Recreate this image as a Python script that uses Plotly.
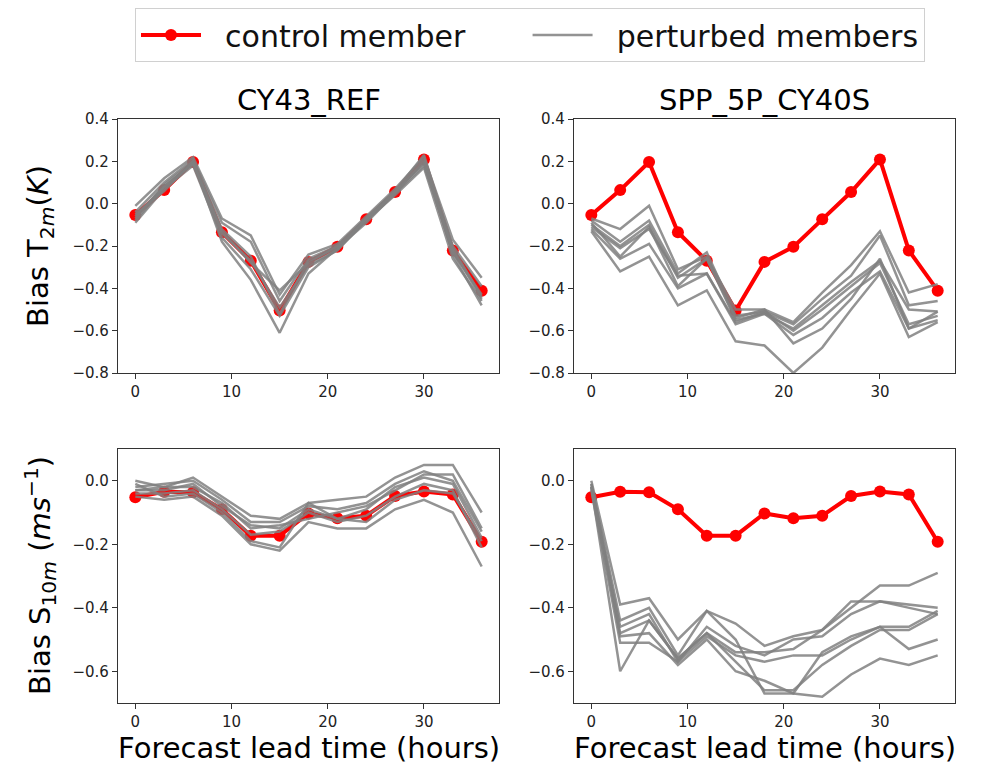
import plotly.graph_objects as go

lead_times = [0, 3, 6, 9, 12, 15, 18, 21, 24, 27, 30, 33, 36]

# control member
ctrl_t2m = [-0.054, 0.064, 0.197, -0.135, -0.270, -0.505, -0.275, -0.204, -0.074, 0.055, 0.209, -0.221, -0.411]
ctrl_s10m = [-0.052, -0.035, -0.036, -0.090, -0.173, -0.173, -0.103, -0.118, -0.110, -0.048, -0.034, -0.043, -0.192]

# perturbed members, CY43_REF, T2m
ref_t2m = [
    [-0.01, 0.12, 0.22, -0.07, -0.15, -0.43, -0.24, -0.19, -0.06, 0.07, 0.22, -0.17, -0.35],
    [-0.04, 0.10, 0.21, -0.09, -0.18, -0.46, -0.26, -0.20, -0.07, 0.06, 0.19, -0.20, -0.39],
    [-0.06, 0.08, 0.19, -0.12, -0.25, -0.52, -0.27, -0.21, -0.08, 0.05, 0.20, -0.23, -0.43],
    [-0.09, 0.07, 0.18, -0.16, -0.31, -0.53, -0.30, -0.22, -0.08, 0.04, 0.17, -0.26, -0.46],
    [-0.07, 0.09, 0.20, -0.18, -0.36, -0.61, -0.33, -0.21, -0.09, 0.05, 0.21, -0.24, -0.48],
    [-0.05, 0.06, 0.20, -0.13, -0.28, -0.41, -0.28, -0.20, -0.07, 0.06, 0.23, -0.21, -0.44],
    [-0.08, 0.08, 0.19, -0.14, -0.27, -0.49, -0.29, -0.22, -0.07, 0.05, 0.18, -0.22, -0.45],
]
# perturbed members, SPP_5P_CY40S, T2m
spp_t2m = [
    [-0.07, -0.12, -0.01, -0.31, -0.25, -0.50, -0.50, -0.56, -0.42, -0.29, -0.13, -0.42, -0.38],
    [-0.08, -0.18, -0.08, -0.33, -0.23, -0.53, -0.51, -0.57, -0.45, -0.34, -0.15, -0.48, -0.46],
    [-0.10, -0.20, -0.10, -0.35, -0.26, -0.55, -0.52, -0.59, -0.48, -0.37, -0.27, -0.50, -0.51],
    [-0.11, -0.21, -0.12, -0.34, -0.33, -0.56, -0.51, -0.60, -0.50, -0.39, -0.28, -0.57, -0.53],
    [-0.12, -0.26, -0.19, -0.40, -0.33, -0.57, -0.52, -0.62, -0.54, -0.42, -0.32, -0.59, -0.55],
    [-0.13, -0.32, -0.25, -0.48, -0.41, -0.65, -0.67, -0.80, -0.68, -0.50, -0.33, -0.63, -0.56],
    [-0.09, -0.25, -0.11, -0.39, -0.26, -0.54, -0.50, -0.66, -0.59, -0.45, -0.26, -0.59, -0.51],
]
# perturbed members, CY43_REF, S10m
ref_s10m = [
    [-0.00, -0.02, 0.01, -0.05, -0.11, -0.12, -0.07, -0.06, -0.05, 0.01, 0.05, 0.05, -0.10],
    [-0.02, -0.01, 0.00, -0.06, -0.13, -0.13, -0.08, -0.09, -0.07, -0.01, 0.03, 0.00, -0.16],
    [-0.03, -0.03, -0.01, -0.08, -0.14, -0.15, -0.09, -0.12, -0.09, -0.02, 0.01, -0.01, -0.18],
    [-0.04, -0.04, -0.03, -0.09, -0.17, -0.16, -0.10, -0.13, -0.11, -0.05, -0.01, -0.03, -0.21],
    [-0.05, -0.06, -0.05, -0.11, -0.20, -0.22, -0.13, -0.15, -0.15, -0.09, -0.06, -0.10, -0.27],
    [-0.01, -0.05, -0.04, -0.10, -0.19, -0.21, -0.07, -0.12, -0.13, -0.06, -0.03, -0.04, -0.19],
    [-0.03, -0.02, -0.02, -0.07, -0.15, -0.14, -0.12, -0.10, -0.08, -0.03, 0.02, 0.02, -0.15],
]
# perturbed members, SPP_5P_CY40S, S10m
spp_s10m = [
    [-0.00, -0.39, -0.37, -0.50, -0.41, -0.45, -0.52, -0.49, -0.47, -0.40, -0.33, -0.33, -0.29],
    [-0.01, -0.44, -0.40, -0.55, -0.41, -0.50, -0.67, -0.67, -0.54, -0.49, -0.46, -0.53, -0.50],
    [-0.02, -0.46, -0.42, -0.57, -0.46, -0.52, -0.55, -0.50, -0.49, -0.42, -0.38, -0.39, -0.40],
    [-0.01, -0.48, -0.44, -0.56, -0.48, -0.54, -0.54, -0.53, -0.47, -0.38, -0.38, -0.40, -0.42],
    [-0.02, -0.49, -0.48, -0.58, -0.50, -0.60, -0.63, -0.67, -0.68, -0.61, -0.56, -0.58, -0.55],
    [-0.03, -0.51, -0.51, -0.57, -0.49, -0.55, -0.57, -0.55, -0.55, -0.50, -0.46, -0.46, -0.41],
    [-0.02, -0.60, -0.44, -0.56, -0.48, -0.57, -0.66, -0.66, -0.58, -0.52, -0.47, -0.47, -0.42],
]

panel_titles = ["CY43_REF", "SPP_5P_CY40S"]
y_titles = ["Bias T<sub>2<i>m</i></sub>(<i>K</i>)", "Bias S<sub>10<i>m</i></sub> (<i>ms</i><sup>−1</sup>)"]
x_title = "Forecast lead time (hours)"
legend_names = ["\u00a0\u00a0control member" + "\u00a0" * 6, "\u00a0\u00a0perturbed members"]
x_ticks = [0, 10, 20, 30]
t2m_ticks = [0.4, 0.2, 0.0, -0.2, -0.4, -0.6, -0.8]
s10m_ticks = [0.0, -0.2, -0.4, -0.6]

# the page body has an 8px margin; positions below are window pixels
OFF = 8
W, H = 983 - OFF, 766 - OFF
FONT = "DejaVu Sans"
GRAY = "rgba(128,128,128,0.85)"
RED = "#ff0000"


def px(x):
    return (x - OFF) / W


def py(y):
    return 1 - (y - OFF) / H


# panel pixel boxes in window coordinates (left, right, top, bottom)
boxes = {
    1: (118, 499, 119, 373),
    2: (574, 955, 119, 373),
    3: (118, 499, 449, 703),
    4: (574, 955, 449, 703),
}

fig = go.Figure()

panels = [
    (1, ctrl_t2m, ref_t2m),
    (2, ctrl_t2m, spp_t2m),
    (3, ctrl_s10m, ref_s10m),
    (4, ctrl_s10m, spp_s10m),
]

for idx, ctrl, members in panels:
    xa = "x" if idx == 1 else f"x{idx}"
    ya = "y" if idx == 1 else f"y{idx}"
    fig.add_trace(go.Scatter(
        x=lead_times, y=ctrl, mode="lines+markers", name=legend_names[0],
        line=dict(color=RED, width=4), marker=dict(color=RED, size=12),
        xaxis=xa, yaxis=ya, showlegend=(idx == 1), legendrank=1))
    for k, m in enumerate(members):
        fig.add_trace(go.Scatter(
            x=lead_times, y=m, mode="lines", name=legend_names[1],
            line=dict(color=GRAY, width=2.5),
            xaxis=xa, yaxis=ya, showlegend=(idx == 1 and k == 0), legendrank=2))

layout = dict(
    width=W, height=H,
    margin=dict(l=0, r=0, t=0, b=0, autoexpand=False),
    paper_bgcolor="white", plot_bgcolor="white",
    font=dict(family=FONT, color="black"),
    legend=dict(
        orientation="h", x=px(530), xanchor="center", y=py(8), yanchor="top",
        font=dict(size=30, family=FONT, color="#111"),
        bordercolor="#d0d0d0", borderwidth=1, bgcolor="white",
        itemwidth=60, traceorder="normal",
    ),
)

for idx, (l, r, t, b) in boxes.items():
    sfx = "" if idx == 1 else str(idx)
    ya_range = [-0.8, 0.4] if idx <= 2 else [-0.7, 0.1]
    yticks = t2m_ticks if idx <= 2 else s10m_ticks
    layout["xaxis" + sfx] = dict(
        domain=[px(l), px(r)], anchor="y" + sfx, range=[-1.8, 37.8],
        tickvals=x_ticks, ticks="outside", ticklen=5, tickwidth=1, tickcolor="#333",
        showline=True, linecolor="#333", linewidth=1.2, mirror=True,
        showgrid=False, zeroline=False,
        tickfont=dict(size=15, family=FONT, color="#222"),
    )
    layout["yaxis" + sfx] = dict(
        domain=[py(b), py(t)], anchor="x" + sfx, range=ya_range,
        tickvals=yticks, tickformat=".1f", ticks="outside", ticklen=5, tickwidth=1,
        tickcolor="#333", showline=True, linecolor="#333", linewidth=1.2, mirror=True,
        showgrid=False, zeroline=False,
        tickfont=dict(size=15, family=FONT, color="#222"),
    )

fig.update_layout(**layout)

annotations = []
for i, title in enumerate(panel_titles):
    l, r, t, b = boxes[i + 1]
    annotations.append(dict(
        text=title, x=px((l + r) / 2), y=py(100), xref="paper", yref="paper",
        xanchor="center", yanchor="middle", showarrow=False,
        font=dict(size=29, family=FONT, color="black")))
    l, r, t, b = boxes[i + 3]
    annotations.append(dict(
        text=x_title, x=px((l + r) / 2), y=py(748), xref="paper", yref="paper",
        xanchor="center", yanchor="middle", showarrow=False,
        font=dict(size=29, family=FONT, color="black")))
for i, yt in enumerate(y_titles):
    l, r, t, b = boxes[1 + 2 * i]
    annotations.append(dict(
        text=yt, x=px(40), y=py((t + b) / 2), xref="paper", yref="paper",
        xanchor="center", yanchor="middle", showarrow=False, textangle=-90,
        font=dict(size=29, family=FONT, color="black")))
fig.update_layout(annotations=annotations)

fig.write_html("out.html")
